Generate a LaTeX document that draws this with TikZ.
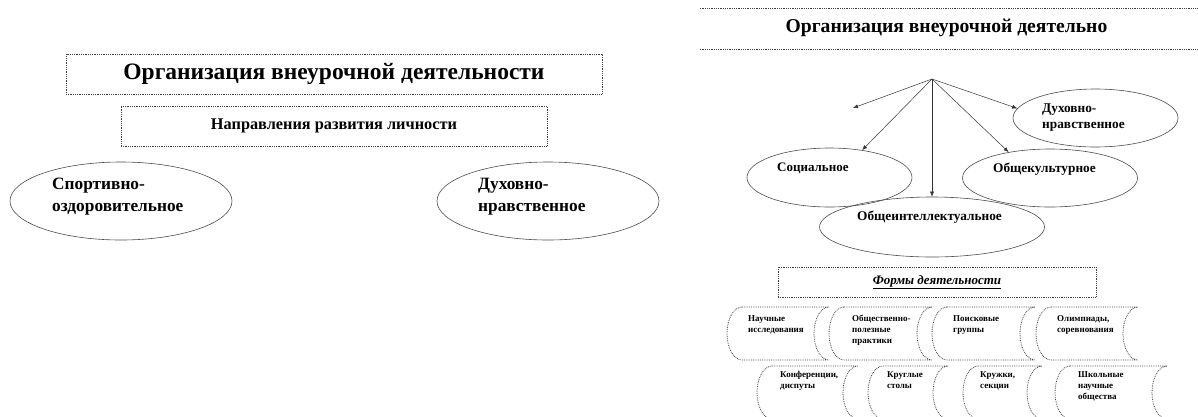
\documentclass[tikz,border=0pt]{standalone}
\usepackage{fontspec}
\setmainfont{Liberation Serif}
\usetikzlibrary{shapes.geometric,arrows.meta}
\tikzset{
  boxline/.style={draw=black!75, line width=0.8pt, densely dotted},
  rbox/.style={boxline, rectangle, inner sep=0pt},
  ell/.style={draw=black!70, line width=0.6pt, ellipse, inner sep=0pt},
  lbl/.style={inner sep=0pt, align=left, font=\bfseries},
  small/.style={inner sep=0pt, align=left, font=\bfseries\fontsize{9}{11}\selectfont},
  arr/.style={draw=black!80, line width=0.5pt, -{Latex[length=5pt,width=4pt]}},
}
\newcommand\sdshape[7]{%
  \draw[boxline] (#2+15,#4) -- (#3,#4)
    .. controls (#3-8.28,#4) and (#3-15,#4+11.86) .. (#3-15,#4+26.5)
    .. controls (#3-15,#4+41.14) and (#3-8.28,#4+53) .. (#3,#4+53)
    -- (#2+15,#4+53)
    .. controls (#2+6.72,#4+53) and (#2,#4+41.14) .. (#2,#4+26.5)
    .. controls (#2,#4+11.86) and (#2+6.72,#4) .. (#2+15,#4) -- cycle;
  \node[small, anchor=north west] (#1) at (#5,#6) {#7};
}
\begin{document}
\begin{tikzpicture}[x=1pt,y=-1pt]
\useasboundingbox (0,0) rectangle (1198,416);
\clip (0,0) rectangle (1198,416);
% ---------- left panel ----------
\node[rbox, minimum width=536pt, minimum height=40pt, font=\bfseries\fontsize{23.5}{26}\selectfont] (title1) at (334,74) {Организация внеурочной деятельности};
\node[rbox, minimum width=426pt, minimum height=40pt, font=\bfseries\fontsize{16.3}{18}\selectfont] (dir) at (334,126) {Направления развития личности};
\node[ell, minimum width=222pt, minimum height=78pt] (sport) at (121,201) {};
\node[lbl, anchor=west, font=\bfseries\fontsize{17.3}{22}\selectfont] (sportt) at (52,197) {Спортивно-\\оздоровительное};
\node[ell, minimum width=222pt, minimum height=78pt] (duh1) at (548,201) {};
\node[lbl, anchor=west, font=\bfseries\fontsize{17.3}{22}\selectfont] (duh1t) at (478,197) {Духовно-\\нравственное};
% ---------- right panel ----------
\node[inner sep=0pt, minimum width=498pt, minimum height=40pt] (title2box) at (949,29) {};
\draw[boxline] (title2box.north west) -- (title2box.north east);
\draw[boxline] (title2box.south west) -- (title2box.south east);
\node[lbl, font=\bfseries\fontsize{19.6}{22}\selectfont] (title2) at (946.5,28) {Организация внеурочной деятельно};
\coordinate (o) at (932,79);
\coordinate (free) at (853,108);
\node[ell, minimum width=165pt, minimum height=59pt] (soc) at (829.5,177.5) {};
\node[lbl, anchor=west, font=\bfseries\fontsize{13}{16}\selectfont] (soct) at (777,168) {Социальное};
\node[ell, minimum width=225pt, minimum height=60pt] (intel) at (932,227) {};
\node[lbl, anchor=west, font=\bfseries\fontsize{13.3}{16}\selectfont] (intelt) at (857,217) {Общеинтеллектуальное};
\node[ell, minimum width=175pt, minimum height=58pt] (cult) at (1050,178) {};
\node[lbl, anchor=west, font=\bfseries\fontsize{13.3}{16}\selectfont] (cultt) at (993,169) {Общекультурное};
\node[ell, minimum width=165pt, minimum height=58pt] (duh2) at (1095.5,118) {};
\node[lbl, anchor=west, font=\bfseries\fontsize{13.3}{16}\selectfont] (duh2t) at (1042,118) {Духовно-\\нравственное};
\draw[arr] (o) -- (free);
\draw[arr] (o) -- (soc.40);
\draw[arr] (o) -- (intel.north);
\draw[arr] (o) -- (cult.148);
\draw[arr] (o) -- (duh2.173);
\node[rbox, minimum width=318pt, minimum height=30pt, font=\bfseries\itshape\fontsize{13}{15}\selectfont] (forms) at (937,282) {\underline{Формы деятельности}};
% stored-data shapes
\sdshape{sd1}{727}{829}{307}{748}{315}{Научные\\исследования}
\sdshape{sd2}{829}{932}{307}{852}{315}{Общественно-\\полезные\\практики}
\sdshape{sd3}{932}{1035}{307}{953}{315}{Поисковые\\группы}
\sdshape{sd4}{1036}{1138}{307}{1057}{315}{Олимпиады,\\соревнования}
\sdshape{sd5}{757}{858}{366}{780}{371}{Конференции,\\диспуты}
\sdshape{sd6}{868}{948}{366}{887}{371}{Круглые\\столы}
\sdshape{sd7}{963}{1042}{366}{980}{371}{Кружки,\\секции}
\sdshape{sd8}{1055}{1167}{366}{1078}{371}{Школьные\\научные\\общества}
\end{tikzpicture}
\end{document}
